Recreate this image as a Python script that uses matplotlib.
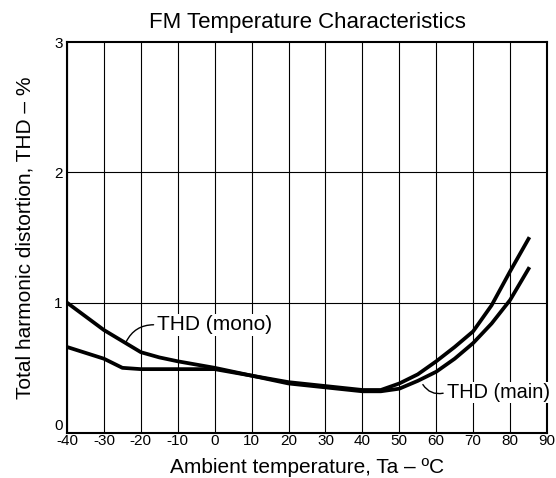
import matplotlib.pyplot as plt
from matplotlib.patches import FancyArrowPatch

plt.rcParams['font.family'] = ['Liberation Sans', 'DejaVu Sans']
plt.rcParams['axes.unicode_minus'] = False

temp_mono = [-40, -30, -20, -15, -10, 0, 10, 20, 30, 40, 45, 50, 55, 60, 65, 70, 75, 80, 85]
thd_mono = [1.00, 0.79, 0.62, 0.58, 0.55, 0.50, 0.44, 0.39, 0.36, 0.33, 0.33, 0.38, 0.45, 0.55, 0.66, 0.78, 0.98, 1.24, 1.49]

temp_main = [-40, -30, -25, -20, -10, 0, 10, 20, 30, 40, 45, 50, 55, 60, 65, 70, 75, 80, 85]
thd_main = [0.66, 0.57, 0.50, 0.49, 0.49, 0.49, 0.44, 0.38, 0.35, 0.32, 0.32, 0.34, 0.40, 0.47, 0.57, 0.69, 0.84, 1.02, 1.26]

x_ticks = list(range(-40, 91, 10))
y_ticks = [0, 1, 2, 3]

fig = plt.figure(figsize=(5.56, 4.78), dpi=100)
ax = fig.add_axes([67 / 556, 1 - 433 / 478, 480 / 556, 391 / 478])

for x in x_ticks:
    ax.axvline(x, color='black', lw=0.8, zorder=1)
for y in y_ticks[1:-1]:
    ax.axhline(y, color='black', lw=0.8, zorder=1)

ax.plot(temp_mono, thd_mono, color='black', lw=2.7, solid_joinstyle='round', zorder=3)
ax.plot(temp_main, thd_main, color='black', lw=2.7, solid_joinstyle='round', zorder=3)

ax.set_xlim(-40, 90)
ax.set_ylim(0, 3)
ax.set_xticks(x_ticks)
ax.set_yticks(y_ticks)
ax.tick_params(length=0, labelsize=11)
ax.tick_params(axis='x', pad=1)
ax.tick_params(axis='y', pad=3)
ax.get_yticklabels()[0].set_verticalalignment('bottom')
for s in ax.spines.values():
    s.set_linewidth(1.5)

ax.set_xlabel('Ambient temperature, Ta – ºC', fontsize=15, labelpad=7)
ax.set_ylabel('Total harmonic distortion, THD – %', fontsize=15, labelpad=14)
ax.set_title('FM Temperature Characteristics', fontsize=16, pad=10)

# curve labels with leader lines
ax.text(-15.6, 0.83, 'THD (mono)', fontsize=15, va='center', ha='left', zorder=4,
        bbox=dict(facecolor='white', edgecolor='none', pad=1))
ax.add_patch(FancyArrowPatch((-15.8, 0.83), (-24.3, 0.68), arrowstyle='-',
                             connectionstyle='arc3,rad=0.35', color='black', lw=1, zorder=4))
ax.text(62.8, 0.31, 'THD (main)', fontsize=14.3, va='center', ha='left', zorder=4,
        bbox=dict(facecolor='white', edgecolor='none', pad=1))
ax.add_patch(FancyArrowPatch((62.6, 0.31), (56.0, 0.39), arrowstyle='-',
                             connectionstyle='arc3,rad=-0.4', color='black', lw=1, zorder=4))

fig.savefig('out.png', dpi=100)
